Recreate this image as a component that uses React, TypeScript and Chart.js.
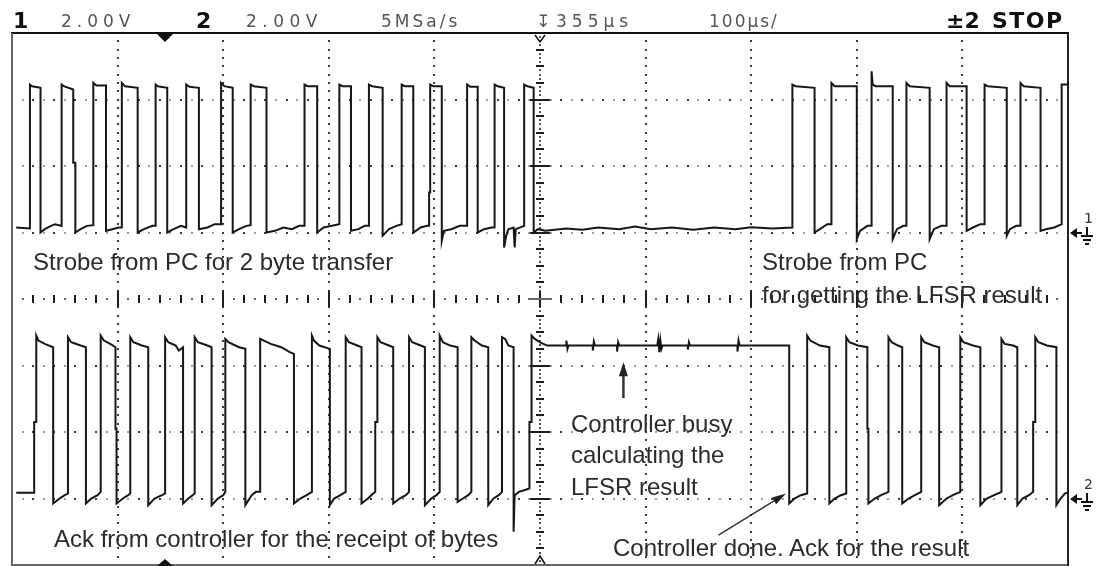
import React, { useEffect, useRef } from 'react';
import { Chart, registerables } from 'chart.js';

Chart.register(...registerables);

// ---- Scope settings (from the header) ----
const X_MIN_US = -145;          // left edge of the screen, µs (centre = 355 µs)
const US_PER_DIV = 100;         // 100 µs/div, 10 divisions
const VOLTS_PER_DIV = 2;        // 2.00 V/div, 8 divisions
const Y_MIN = -8;
const CH1_OFFSET_V = 2;         // channel 1 ground marker
const CH2_OFFSET_V = -6;        // channel 2 ground marker

// ---- Channel 1: strobe from PC  [time µs, volts] ----
const ch1BurstA: [number, number][] = [
  [-141, 0.15], [-128, 0.12],
  [-128, 4.45], [-126, 4.4], [-118, 4.35], [-118, 0.0], [-114, 0.1], [-108, 0.2], [-104, 0.25], [-98, 0.2],
  [-98, 4.45], [-96, 4.4], [-87, 4.3], [-87, 2.1], [-85, 2.1], [-85, 0.0], [-80, 0.1], [-74, 0.2], [-68, 0.22],
  [-68, 4.5], [-65, 4.42], [-56, 4.42], [-56, 0.05], [-50, 0.1], [-44, 0.15], [-41, 0.15],
  [-41, 4.5], [-38, 4.4], [-26, 4.35], [-26, 0.0], [-20, 0.1], [-12, 0.2], [-9, 0.2],
  [-9, 4.45], [-7, 4.4], [2, 4.35], [2, 0.0], [8, 0.1], [15, 0.2], [20, 0.15],
  [20, 4.45], [23, 4.38], [32, 4.35], [32, 0.1], [40, 0.15], [47, 0.25], [53, 0.25],
  [53, 4.5], [56, 4.4], [64, 4.35], [64, 0.0], [70, 0.1], [77, 0.2], [81, 0.22],
  [81, 4.45], [84, 4.4], [96, 4.35], [96, 0.0], [104, 0.05], [112, 0.15], [120, 0.1], [127, 0.2], [132, 0.2],
  [132, 4.45], [135, 4.4], [144, 4.4], [144, 0.0], [150, 0.15], [158, 0.2], [165, 0.25],
  [165, 4.45], [168, 4.4], [176, 4.4], [176, 0.05], [183, 0.1], [189, 0.2], [193, 0.2],
  [193, 4.45], [196, 4.4], [206, 4.35], [206, -0.1], [212, 0.1], [219, 0.2], [224, 0.25],
  [224, 4.45], [227, 4.4], [235, 4.4], [235, 0.0], [242, 0.15], [248, 0.2], [250, 0.2],
  [250, 1.2], [251, 1.2], [251, 4.45], [254, 4.4], [262, 4.4], [262, -0.25], [264, 0.05], [271, 0.1], [279, 0.2], [286, 0.2],
  [286, 4.45], [289, 4.38], [296, 4.38], [296, 0.0], [302, 0.1], [309, 0.15], [312, 0.15],
  [312, 4.45], [315, 4.4], [321, 4.35], [321, -0.45], [323, -0.1], [325, 0.1], [330, 0.15], [331, -0.45], [332, 0.1], [340, 0.2],
  [340, 4.45], [343, 4.4], [349, 4.35], [349, 0.0], [353, 0.1],
];
const ch1Idle: [number, number][] = [
  [360, 0.05], [380, 0.12], [395, 0.08], [410, 0.15], [430, 0.1], [445, 0.18], [460, 0.1],
  [480, 0.15], [500, 0.08], [520, 0.15], [540, 0.1], [555, 0.16], [575, 0.12], [594, 0.15],
];
const ch1BurstB: [number, number][] = [
  [594, 4.45], [597, 4.4], [615, 4.35], [615, 0.0], [620, 0.1], [627, 0.25], [631, 0.25],
  [631, 4.5], [634, 4.4], [655, 4.4], [655, -0.2], [658, 0.05], [665, 0.2], [669, 0.2],
  [669, 4.85], [670, 4.45], [673, 4.4], [689, 4.4], [689, -0.2], [693, 0.1], [699, 0.2], [702, 0.2],
  [702, 4.5], [705, 4.4], [724, 4.35], [724, -0.2], [728, 0.1], [735, 0.2], [740, 0.2],
  [740, 4.5], [743, 4.4], [759, 4.4], [759, 0.05], [765, 0.15], [772, 0.25], [776, 0.25],
  [776, 4.45], [779, 4.4], [797, 4.35], [797, -0.1], [800, 0.1], [806, 0.2], [810, 0.2],
  [810, 4.5], [813, 4.4], [829, 4.35], [829, 0.05], [834, 0.1], [842, 0.15], [849, 0.25],
  [849, 4.45], [852, 4.45], [856, 4.45],
];

// ---- Channel 2: ack from controller  [time µs, volts] ----
const ch2BurstA: [number, number][] = [
  [-141, 0.17], [-124, 0.17], [-124, 2.3], [-122, 2.3], [-122, 4.9], [-120, 4.75], [-114, 4.65], [-106, 4.55], [-106, -0.15], [-100, 0.0], [-95, 0.1], [-92, 0.15],
  [-92, 4.85], [-89, 4.7], [-80, 4.6], [-75, 4.55], [-75, -0.15], [-70, 0.0], [-64, 0.1], [-61, 0.2],
  [-61, 4.9], [-58, 4.75], [-52, 4.65], [-47, 4.55], [-47, 2.1], [-46, 2.1], [-46, -0.15], [-40, 0.0], [-35, 0.1], [-33, 0.15],
  [-33, 4.85], [-30, 4.7], [-22, 4.6], [-16, 4.55], [-16, -0.2], [-10, 0.0], [-3, 0.1], [0, 0.15],
  [0, 4.85], [3, 4.7], [10, 4.6], [13, 4.45], [17, 4.55], [17, -0.15], [22, 0.0], [26, 0.1], [28, 0.15],
  [28, 4.85], [31, 4.7], [40, 4.6], [44, 4.55], [44, -0.2], [50, 0.0], [55, 0.1], [57, 0.2],
  [57, 4.8], [60, 4.7], [70, 4.55], [76, 4.5], [76, -0.2], [82, 0.1], [86, 0.2], [90, 0.2],
  [90, 4.8], [100, 4.65], [110, 4.55], [118, 4.4], [122, 4.35], [122, -0.15], [128, 0.0], [134, 0.1], [139, 0.2],
  [139, 4.9], [141, 4.75], [146, 4.6], [156, 4.5], [156, -0.2], [160, 0.0], [166, 0.1], [171, 0.2],
  [171, 4.85], [174, 4.7], [182, 4.6], [186, 4.55], [186, -0.15], [192, 0.0], [197, 0.15], [199, 0.2],
  [199, 2.3], [201, 2.3], [201, 4.85], [204, 4.7], [212, 4.6], [216, 4.55], [216, -0.15], [222, 0.0], [228, 0.1], [231, 0.2],
  [231, 4.85], [234, 4.7], [242, 4.6], [246, 4.55], [246, -0.2], [252, 0.0], [257, 0.1], [260, 0.2],
  [260, 4.9], [263, 4.7], [270, 4.6], [277, 4.55], [277, -0.1], [282, 0.0], [287, 0.1], [290, 0.2],
  [290, 4.85], [293, 4.75], [300, 4.6], [306, 4.55], [306, -0.2], [311, 0.0], [316, 0.1], [319, 0.2],
  [319, 4.85], [322, 4.8], [325, 4.6], [330, 4.55], [330, -1.0], [331, 0.1], [335, 0.2], [340, 0.25], [345, 0.3],
];
const ch2Busy: [number, number][] = [
  [345, 2.3], [347, 2.3], [347, 4.9], [350, 4.8], [356, 4.68], [362, 4.6], [380, 4.6], [380, 4.75], [381, 4.5],
  [382, 4.6], [405, 4.6], [405, 4.45], [406, 4.72], [407, 4.6], [428, 4.6], [428, 4.42], [429, 4.7], [430, 4.6],
  [450, 4.6], [466, 4.6], [467, 4.8], [468, 4.4], [469, 4.75], [470, 4.5], [471, 4.6], [495, 4.6], [495, 4.48],
  [496, 4.7], [497, 4.6], [520, 4.6], [542, 4.6], [542, 4.42], [543, 4.75], [544, 4.6], [570, 4.6], [591, 4.6],
];
const ch2BurstB: [number, number][] = [
  [591, -0.15], [596, 0.0], [602, 0.1], [608, 0.15],
  [608, 4.9], [611, 4.75], [620, 4.6], [629, 4.55], [629, -0.15], [634, 0.0], [640, 0.1], [645, 0.15],
  [645, 4.85], [648, 4.7], [656, 4.6], [665, 4.55], [665, 2.1], [666, 2.1], [666, -0.15], [672, 0.0], [678, 0.1], [685, 0.2],
  [685, 4.85], [688, 4.7], [694, 4.6], [698, 4.55], [698, -0.15], [704, 0.0], [710, 0.1], [716, 0.2],
  [716, 4.85], [719, 4.7], [727, 4.6], [733, 4.55], [733, -0.2], [740, 0.0], [746, 0.1], [753, 0.2],
  [753, 4.85], [756, 4.7], [765, 4.6], [772, 4.55], [772, -0.2], [778, 0.0], [785, 0.1], [792, 0.2],
  [792, 4.8], [795, 4.65], [803, 4.6], [807, 4.55], [807, -0.2], [812, 0.0], [818, 0.1], [822, 0.2],
  [822, 2.3], [824, 2.3], [824, 4.85], [827, 4.7], [835, 4.6], [844, 4.55], [844, -0.2], [848, 0.0], [852, 0.15], [856, 0.2],
];

// ---- Text ----
const headerTexts = ['1', '2.00V', '2', '2.00V', '5MSa/s', '↧', '355µs', '100µs/', '±2', 'STOP'];
const annotationTexts = [
  'Strobe from PC for 2 byte transfer',
  'Strobe from PC',
  'for getting the LFSR result',
  'Controller busy',
  'calculating the',
  'LFSR result',
  'Ack from controller for the receipt of bytes',
  'Controller done. Ack for the result',
];
const channelMarkers = ['1', '2'];

const toPoints = (pts: [number, number][], offset: number) =>
  pts.map(([t, v]) => ({ x: t, y: v + offset }));

const X_MAX_US = X_MIN_US + 10 * US_PER_DIV;
const Y_MAX = Y_MIN + 8 * VOLTS_PER_DIV;

function arrow(ctx: CanvasRenderingContext2D, x1: number, y1: number, x2: number, y2: number, head: number, half: number) {
  const ang = Math.atan2(y2 - y1, x2 - x1);
  ctx.beginPath();
  ctx.moveTo(x1, y1);
  ctx.lineTo(x2 - Math.cos(ang) * head * 0.8, y2 - Math.sin(ang) * head * 0.8);
  ctx.stroke();
  ctx.beginPath();
  ctx.moveTo(x2, y2);
  ctx.lineTo(x2 - Math.cos(ang) * head + Math.sin(ang) * half, y2 - Math.sin(ang) * head - Math.cos(ang) * half);
  ctx.lineTo(x2 - Math.cos(ang) * head - Math.sin(ang) * half, y2 - Math.sin(ang) * head + Math.cos(ang) * half);
  ctx.closePath();
  ctx.fill();
}

const scopeDecor = {
  id: 'scopeDecor',
  beforeDatasetsDraw(chart: any) {
    const { ctx, chartArea: a, scales } = chart;
    const X = (t: number) => scales.x.getPixelForValue(t);
    const Y = (v: number) => scales.y.getPixelForValue(v);
    ctx.save();
    // horizontal dotted grid rows
    for (let j = 1; j < 8; j++) {
      if (j === 4) continue;
      const py = Math.round(Y(Y_MIN + j * VOLTS_PER_DIV));
      for (let k = 1; k < 100; k++) {
        const px = Math.round(X(X_MIN_US + (k * US_PER_DIV) / 10));
        ctx.fillStyle = k % 2 === 0 ? '#3c3c3c' : '#a0a0a0';
        ctx.fillRect(px - 1, py - 1, 2, 2);
      }
    }
    // vertical dotted grid columns
    for (let i = 1; i < 10; i++) {
      if (i === 5) continue;
      const px = Math.round(X(X_MIN_US + i * US_PER_DIV));
      for (let k = 1; k < 64; k++) {
        const py = Math.round(Y(Y_MIN + (k * VOLTS_PER_DIV) / 8));
        ctx.fillStyle = '#3c3c3c';
        ctx.fillRect(px - 1, py - 1, 2, 2);
      }
    }
    // centre vertical axis
    const cx = Math.round(X(X_MIN_US + 5 * US_PER_DIV));
    const cy = Math.round(Y(0));
    ctx.fillStyle = '#555';
    for (let k = 1; k < 128; k++) {
      const py = Math.round(Y(Y_MIN + (k * VOLTS_PER_DIV) / 16));
      ctx.fillRect(cx - 1, py - 1, 2, 2);
    }
    ctx.fillStyle = '#1e1e1e';
    for (let k = 1; k < 32; k++) {
      const py = Math.round(Y(Y_MIN + (k * VOLTS_PER_DIV) / 4));
      const w = k % 4 === 0 ? 10 : 4;
      ctx.fillRect(cx - w, py - 1, 2 * w, 2);
    }
    // centre horizontal axis
    for (let k = 1; k < 100; k++) {
      const px = Math.round(X(X_MIN_US + (k * US_PER_DIV) / 10));
      if (k % 2 === 1) {
        ctx.fillStyle = '#666';
        ctx.fillRect(px - 1, cy - 1, 2, 2);
      } else {
        const h = k % 10 === 0 ? 8 : 4;
        ctx.fillStyle = '#1e1e1e';
        ctx.fillRect(px - 1, cy - h, 2, 2 * h);
      }
    }
    ctx.fillRect(cx - 10, cy - 1, 20, 2);
    // frame
    ctx.fillStyle = '#111';
    ctx.fillRect(a.left - 1, a.top - 1, a.right - a.left + 2, 2);
    ctx.fillStyle = '#666';
    ctx.fillRect(a.left - 1, a.top, 2, a.bottom - a.top + 2);
    ctx.fillRect(a.left - 1, a.bottom - 1, a.right - a.left + 2, 2);
    ctx.fillStyle = '#222';
    ctx.fillRect(a.right - 1, a.top, 2, a.bottom - a.top + 2);
    ctx.restore();
  },
  afterDatasetsDraw(chart: any) {
    const { ctx, chartArea: a, scales } = chart;
    const X = (t: number) => scales.x.getPixelForValue(t);
    const Y = (v: number) => scales.y.getPixelForValue(v);
    ctx.save();
    ctx.fillStyle = '#111';
    ctx.strokeStyle = '#111';
    // trigger-time triangles (t = 0)
    const tx = Math.round(X(0));
    ctx.beginPath();
    ctx.moveTo(tx - 8, a.top + 1); ctx.lineTo(tx + 8, a.top + 1); ctx.lineTo(tx, a.top + 9); ctx.closePath(); ctx.fill();
    ctx.beginPath();
    ctx.moveTo(tx - 8, a.bottom + 1); ctx.lineTo(tx + 8, a.bottom + 1); ctx.lineTo(tx, a.bottom - 6); ctx.closePath(); ctx.fill();
    // delay reference marks at the centre
    const cx = Math.round(X(X_MIN_US + 5 * US_PER_DIV));
    ctx.lineWidth = 1.5;
    ctx.beginPath();
    ctx.moveTo(cx - 5, a.top + 2); ctx.lineTo(cx, a.top + 9); ctx.lineTo(cx + 5, a.top + 2); ctx.stroke();
    ctx.beginPath();
    ctx.moveTo(cx - 5, a.bottom - 1); ctx.lineTo(cx, a.bottom - 9); ctx.lineTo(cx + 5, a.bottom - 1); ctx.stroke();
    // channel ground markers outside the right edge
    for (const off of [CH1_OFFSET_V, CH2_OFFSET_V]) {
      const gy = Math.round(Y(off));
      ctx.beginPath();
      ctx.moveTo(a.right + 2, gy); ctx.lineTo(a.right + 9, gy - 5); ctx.lineTo(a.right + 9, gy + 5); ctx.closePath(); ctx.fill();
      ctx.fillRect(a.right + 9, gy - 1, 5, 2);
      ctx.fillRect(a.right + 18, gy - 6, 2, 8);
      ctx.fillRect(a.right + 13, gy + 2, 12, 2);
      ctx.fillRect(a.right + 15, gy + 6, 8, 2);
      ctx.fillRect(a.right + 17, gy + 10, 4, 2);
    }
    // annotation arrows
    ctx.strokeStyle = '#333';
    ctx.fillStyle = '#222';
    ctx.lineWidth = 2.5;
    arrow(ctx, X(434), Y(-2.98), X(434), Y(-1.9), 14, 4.5);
    ctx.lineWidth = 1.5;
    arrow(ctx, X(524), Y(-7.1), X(588), Y(-5.85), 14, 4);
    ctx.restore();
  },
};

export default function App() {
  const canvasRef = useRef<HTMLCanvasElement | null>(null);

  useEffect(() => {
    document.body.style.margin = '0';
    const canvas = canvasRef.current;
    if (!canvas) return;
    const chart = new Chart(canvas, {
      type: 'line',
      data: {
        datasets: [
          {
            label: 'Channel 1',
            data: toPoints([...ch1BurstA, ...ch1Idle, ...ch1BurstB], CH1_OFFSET_V),
            borderColor: '#161616',
            borderWidth: 2,
            pointRadius: 0,
            tension: 0,
            fill: false,
          },
          {
            label: 'Channel 2',
            data: toPoints([...ch2BurstA, ...ch2Busy, ...ch2BurstB], CH2_OFFSET_V),
            borderColor: '#161616',
            borderWidth: 2,
            pointRadius: 0,
            tension: 0,
            fill: false,
          },
        ],
      },
      options: {
        animation: false,
        responsive: false,
        maintainAspectRatio: false,
        layout: { padding: { left: 12, top: 33, right: 28, bottom: 1 } },
        scales: {
          x: { type: 'linear', min: X_MIN_US, max: X_MAX_US, display: false },
          y: { type: 'linear', min: Y_MIN, max: Y_MAX, display: false },
        },
        plugins: { legend: { display: false }, tooltip: { enabled: false } },
        elements: { line: { borderJoinStyle: 'miter', borderCapStyle: 'butt' } },
      },
      plugins: [scopeDecor],
    } as any);
    return () => chart.destroy();
  }, []);

  const hdr = (i: number, left: number, opts: any = {}) => (
    <div
      key={'h' + i}
      style={{
        position: 'absolute',
        left,
        top: 10,
        fontFamily: '"DejaVu Sans", sans-serif',
        fontSize: opts.bold ? 22 : 17,
        lineHeight: '22px',
        fontWeight: opts.bold ? 700 : 400,
        color: opts.bold ? '#111' : '#555',
        letterSpacing: opts.ls ?? 0,
        whiteSpace: 'nowrap',
      }}
    >
      {headerTexts[i]}
    </div>
  );

  const ann = (i: number, left: number, baseline: number) => (
    <div
      key={'a' + i}
      style={{
        position: 'absolute',
        left,
        top: baseline - 20.3,
        fontFamily: '"Liberation Sans", Arial, sans-serif',
        fontSize: 24,
        lineHeight: '24px',
        color: '#2b2b2b',
        whiteSpace: 'nowrap',
      }}
    >
      {annotationTexts[i]}
    </div>
  );

  const marker = (i: number, top: number) => (
    <div
      key={'m' + i}
      style={{
        position: 'absolute',
        left: 1084,
        top,
        fontFamily: '"DejaVu Sans", sans-serif',
        fontSize: 14,
        lineHeight: '14px',
        color: '#333',
      }}
    >
      {channelMarkers[i]}
    </div>
  );

  return (
    <div style={{ position: 'absolute', left: 0, top: 0, width: 1096, height: 566, background: '#fff' }}>
      <canvas ref={canvasRef} width={1096} height={566} style={{ display: 'block', width: 1096, height: 566 }} />
      {hdr(0, 13, { bold: true })}
      {hdr(1, 61, { ls: 5 })}
      {hdr(2, 196, { bold: true })}
      {hdr(3, 246, { ls: 5.5 })}
      {hdr(4, 381, { ls: 3 })}
      {hdr(5, 536)}
      {hdr(6, 556, { ls: 5 })}
      {hdr(7, 709, { ls: 2 })}
      {hdr(8, 946, { bold: true })}
      {hdr(9, 992, { bold: true, ls: 1.5 })}
      {ann(0, 33, 270)}
      {ann(1, 762, 270)}
      {ann(2, 762, 303)}
      {ann(3, 571, 432)}
      {ann(4, 571, 463)}
      {ann(5, 571, 495)}
      {ann(6, 54, 547)}
      {ann(7, 613, 556)}
      {marker(0, 211)}
      {marker(1, 477)}
    </div>
  );
}
